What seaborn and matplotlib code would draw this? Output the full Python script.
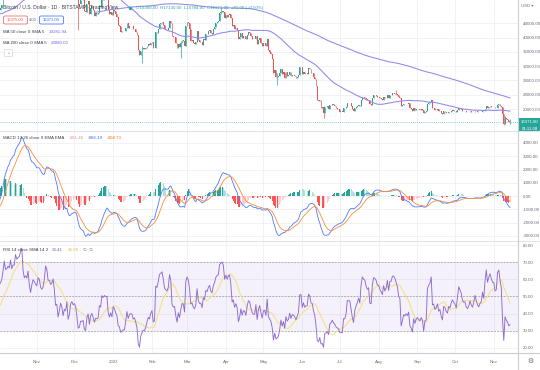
import numpy as np
import pandas as pd
import matplotlib
matplotlib.use("Agg")
import matplotlib.pyplot as plt
import matplotlib.dates as mdates
from matplotlib.patches import Rectangle, FancyBboxPatch
import seaborn as sns

# BTC/USD daily closes (Bitstamp). Jun-Sep 2021 only feed the MA / MACD / RSI warm-up.
close_2021_06 = [36690, 37570, 39190, 36880, 35530, 35800, 33540, 33410, 37390, 36690,
                 37310, 35550, 39010, 40530, 40140, 38350, 38060, 35820, 35480, 35600,
                 31680, 32510, 33680, 34660, 31590, 32280, 34700, 34490, 35910, 35040]
close_2021_07 = [33520, 33800, 34670, 35290, 33690, 34230, 33860, 32880, 33810, 33510,
                 34260, 33090, 32730, 32820, 31780, 31420, 31530, 31780, 30820, 29790,
                 32140, 32310, 33580, 34290, 35350, 37340, 39410, 39980, 40020, 42240, 41630]
close_2021_08 = [39970, 39200, 38150, 39750, 40870, 42820, 44610, 43830, 46290, 45600,
                 45590, 44430, 47830, 47110, 47010, 45900, 44700, 44800, 46720, 49340,
                 48870, 49290, 49500, 47710, 48990, 46880, 49070, 48900, 48810, 46990, 47170]
close_2021_09 = [48850, 49280, 50040, 49940, 51770, 52660, 46860, 46070, 46400, 44850,
                 45160, 46050, 44960, 47130, 48140, 47760, 47300, 48300, 47260, 42840,
                 40690, 43570, 44900, 42840, 42720, 43210, 42240, 41030, 41520, 43790]
close_2021_10 = [48140, 47710, 48200, 49110, 51510, 55360, 53810, 53970, 54960, 54660,
                 57470, 56010, 57370, 57350, 61670, 60880, 61530, 62010, 64280, 66000,
                 62210, 60690, 61290, 60860, 63080, 60330, 58460, 60620, 62270, 61890, 61320]
close_2021_11 = [61000, 63230, 62940, 61450, 61010, 61530, 63330, 67540, 66970, 64950,
                 64920, 64160, 64470, 65470, 63560, 60160, 60370, 56940, 58120, 59760,
                 58730, 56290, 57570, 57170, 58960, 53730, 54720, 57270, 57810, 56950]
close_2021_12 = [57220, 56510, 53600, 49200, 49400, 50580, 50470, 50640, 47540, 47140,
                 49390, 50100, 46710, 48380, 48860, 47630, 46130, 46830, 46680, 46880,
                 48940, 48630, 50820, 50430, 50810, 50640, 50640, 47590, 46470, 47120, 46200]
close_2022_01 = [47740, 47310, 46460, 45830, 43430, 43080, 41560, 41730, 41870, 41820,
                 42740, 43920, 42590, 43100, 43180, 43110, 42250, 42370, 41660, 40680,
                 36450, 35070, 36280, 36650, 36950, 36830, 37160, 37720, 38170, 37920, 38480]
close_2022_02 = [38740, 36950, 37080, 41570, 41380, 42410, 43840, 44040, 44340, 43560,
                 42400, 42210, 42060, 42540, 44580, 43940, 40540, 40030, 40120, 38430,
                 37030, 38250, 37260, 38330, 39220, 39110, 37700, 43190]
close_2022_03 = [44420, 43920, 42450, 39150, 39400, 38420, 38060, 38740, 41940, 39440,
                 38730, 38810, 37790, 39670, 39280, 41120, 40920, 41760, 42200, 41260,
                 41000, 42360, 42890, 43960, 44350, 44500, 46820, 47130, 47450, 47060, 45540]
close_2022_04 = [46280, 45810, 46400, 46580, 45500, 43170, 43440, 42280, 42760, 42160,
                 39530, 40070, 41140, 39940, 40550, 40380, 39680, 40800, 41500, 41370,
                 40480, 39710, 39470, 39450, 40430, 38120, 39240, 39740, 38600, 37650]
close_2022_05 = [38470, 38530, 37720, 39700, 36510, 36010, 35470, 34060, 30100, 31010,
                 28940, 29050, 29280, 30080, 31320, 29860, 30420, 28700, 30310, 29200,
                 29430, 30300, 29100, 29650, 29540, 29200, 28630, 29020, 29450, 31730, 31790]
close_2022_06 = [29800, 30450, 29700, 29860, 29910, 31370, 31130, 30200, 30110, 29080,
                 28420, 26570, 22490, 22140, 22580, 20380, 20450, 19010, 20550, 20570,
                 20720, 19970, 21090, 21230, 21500, 21030, 20730, 20280, 20100, 19930]
close_2022_07 = [19290, 19300, 19220, 20220, 20190, 20540, 21630, 21590, 21590, 20850,
                 19970, 19330, 20210, 20570, 20830, 21190, 20780, 22430, 23400, 23230,
                 23150, 22680, 22450, 22580, 21310, 21250, 22950, 23840, 23780, 23640, 23300]
close_2022_08 = [23270, 22990, 22820, 22620, 23310, 22960, 23180, 23810, 23160, 23950,
                 23950, 24400, 24440, 24310, 24100, 23860, 23340, 23190, 20830, 21140,
                 21520, 21400, 21530, 21370, 21560, 20260, 20040, 19560, 20280, 19800, 20050]
close_2022_09 = [20130, 19950, 19830, 19990, 19800, 18790, 19290, 19320, 21360, 21650,
                 21830, 22400, 20170, 20240, 19700, 19800, 20110, 19420, 19540, 18880,
                 18490, 19410, 19300, 18930, 18800, 19220, 19080, 19410, 19590, 19430]
close_2022_10 = [19310, 19060, 19630, 20340, 20160, 19960, 19530, 19420, 19450, 19140,
                 19050, 19160, 19380, 19180, 19070, 19270, 19550, 19330, 19130, 19040,
                 19170, 19210, 19570, 19340, 20090, 20770, 20290, 20600, 20820, 20630, 20490]
close_2022_11 = [20480, 20160, 20210, 21150, 21300, 20920, 20600, 18540, 15880, 17590,
                 17070, 16810, 16290, 16371]

month_starts = ["2021-06-01", "2021-07-01", "2021-08-01", "2021-09-01", "2021-10-01",
                "2021-11-01", "2021-12-01", "2022-01-01", "2022-02-01", "2022-03-01",
                "2022-04-01", "2022-05-01", "2022-06-01", "2022-07-01", "2022-08-01",
                "2022-09-01", "2022-10-01", "2022-11-01"]
month_closes = [close_2021_06, close_2021_07, close_2021_08, close_2021_09, close_2021_10,
                close_2021_11, close_2021_12, close_2022_01, close_2022_02, close_2022_03,
                close_2022_04, close_2022_05, close_2022_06, close_2022_07, close_2022_08,
                close_2022_09, close_2022_10, close_2022_11]

# the long wicks that stand out (date: low, high)
wicks = {
    "2021-11-10": (62800, 69000),
    "2021-12-04": (42000, 53900),
    "2022-01-24": (32950, 37500),
    "2022-02-24": (34320, 39000),
    "2022-03-28": (46600, 48190),
    "2022-05-12": (26700, 30000),
    "2022-06-18": (17600, 20750),
    "2022-08-15": (23800, 25200),
    "2022-11-09": (15600, 18500),
    "2022-11-10": (15800, 18150),
    "2022-11-14": (15784, 17130),
}

UP, DOWN = "#26a69a", "#ef5350"
MA_COL = "#8f88ec"
GRID = "#eef0f5"
TXT = "#6a6d78"

# ---- build table + indicators
frames = [pd.DataFrame({"date": pd.date_range(s, periods=len(v), freq="D"), "close": v})
          for s, v in zip(month_starts, month_closes)]
df = pd.concat(frames, ignore_index=True)
df["close"] = df["close"].astype(float)
df["open"] = df["close"].shift(1).fillna(df["close"])
df.loc[df["date"] == "2022-11-14", "open"] = 16300
df["high"] = df[["open", "close"]].max(axis=1)
df["low"] = df[["open", "close"]].min(axis=1)
for d, (lo, hi) in wicks.items():
    m = df["date"] == d
    df.loc[m, "low"] = lo
    df.loc[m, "high"] = hi

df["ma50"] = df["close"].rolling(50).mean()
df["ma200"] = df["close"].rolling(200).mean()
ema12 = df["close"].ewm(span=12, adjust=False).mean()
ema26 = df["close"].ewm(span=26, adjust=False).mean()
df["macd"] = ema12 - ema26
df["signal"] = df["macd"].ewm(span=9, adjust=False).mean()
df["hbar"] = df["macd"] - df["signal"]
delta = df["close"].diff()
gain = delta.clip(lower=0).ewm(alpha=1 / 14, adjust=False).mean()
loss = (-delta.clip(upper=0)).ewm(alpha=1 / 14, adjust=False).mean()
df["rsi"] = 100 - 100 / (1 + gain / loss)
df["rsi_ma"] = df["rsi"].rolling(14).mean()
df["x"] = mdates.date2num(df["date"])

prev = df["hbar"].shift(1)
df["hcol"] = np.where(df["hbar"] >= 0,
                      np.where(df["hbar"] >= prev, "#26a69a", "#b2dfdb"),
                      np.where(df["hbar"] < prev, "#ff5252", "#ffcdd2"))

vis = df[df["date"] >= "2021-10-01"].reset_index(drop=True)

# ---- figure
sns.set_theme(style="white")
plt.rcParams["font.family"] = ["Liberation Sans", "DejaVu Sans"]
W, H = 540, 370
fig = plt.figure(figsize=(5.4, 3.7), dpi=100)
fig.patch.set_facecolor("white")

def pane(top, bottom):
    return fig.add_axes([0, 1 - bottom / H, 518 / W, (bottom - top) / H])

ax_p = pane(0, 131)
ax_m = pane(131, 241)
ax_r = pane(241, 353)

x0 = mdates.date2num(pd.Timestamp("2021-10-01")) + 1.6
x1 = x0 + 518 / 1.252

for ax in (ax_p, ax_m, ax_r):
    ax.set_xlim(x0, x1)
    ax.set_facecolor("none")
    for s in ax.spines.values():
        s.set_visible(False)
    ax.xaxis.set_major_locator(mdates.MonthLocator())
    ax.grid(True, color=GRID, lw=0.6)
    ax.yaxis.tick_right()
    ax.tick_params(axis="y", length=0, pad=3.5, labelsize=3.2, labelcolor=TXT)
    ax.tick_params(axis="x", length=0)

# price pane
ax_p.set_ylim(13850, 50490)
ax_p.set_yticks(range(20000, 44001, 4000))
ax_p.yaxis.set_major_formatter(lambda v, p: f"{v:.2f}")
cc = np.where(vis["close"] >= vis["open"], UP, DOWN)
ax_p.vlines(vis["x"], vis["low"], vis["high"], colors=cc, lw=0.5, zorder=3)
body = np.maximum((vis["close"] - vis["open"]).abs(), 90)
ax_p.bar(vis["x"], body, bottom=vis[["open", "close"]].min(axis=1), width=0.72,
         color=cc, lw=0, zorder=4)
sns.lineplot(data=vis, x="x", y="ma50", ax=ax_p, color=MA_COL, lw=0.75, estimator=None, zorder=5)
sns.lineplot(data=vis, x="x", y="ma200", ax=ax_p, color=MA_COL, lw=0.75, estimator=None, zorder=5)
ax_p.axhline(16371, color=UP, lw=0.6, ls=(0, (1, 1.5)), alpha=0.7, zorder=2)
ax_p.set_xticklabels([])

# MACD pane
ax_m.set_ylim(-3380, 4900)
ax_m.set_yticks(range(-3000, 4001, 1000))
ax_m.yaxis.set_major_formatter(lambda v, p: f"{v:.2f}")
ax_m.bar(vis["x"], vis["hbar"], width=0.75, color=vis["hcol"], lw=0, zorder=3)
sns.lineplot(data=vis, x="x", y="macd", ax=ax_m, color="#4f7cf7", lw=0.6, estimator=None, zorder=4)
sns.lineplot(data=vis, x="x", y="signal", ax=ax_m, color="#fb8c3c", lw=0.6, estimator=None, zorder=4)
ax_m.set_xticklabels([])

# RSI pane
ax_r.set_ylim(17, 82.4)
ax_r.set_yticks(range(20, 81, 10))
ax_r.yaxis.set_major_formatter(lambda v, p: f"{v:.2f}")
ax_r.axhspan(30, 70, color="#7e57c2", alpha=0.08, lw=0, zorder=1)
for lv in (70, 50, 30):
    ax_r.axhline(lv, color="#9598a1", lw=0.5, ls=(0, (2.5, 2)), zorder=2)
sns.lineplot(data=vis, x="x", y="rsi_ma", ax=ax_r, color="#f4e08a", lw=0.8, estimator=None, zorder=3)
sns.lineplot(data=vis, x="x", y="rsi", ax=ax_r, color="#8c6bd0", lw=0.65, estimator=None, zorder=4)
ax_r.xaxis.set_major_formatter(
    lambda v, p: str(mdates.num2date(v).year) if mdates.num2date(v).month == 1
    else mdates.num2date(v).strftime("%b"))
ax_r.tick_params(axis="x", labelsize=3.2, labelcolor=TXT, pad=5)
for ax in (ax_p, ax_m, ax_r):
    ax.set_xlabel("")
    ax.set_ylabel("")

# ---- overlay in pixel coordinates for the TradingView chrome
ov = fig.add_axes([0, 0, 1, 1], zorder=10)
ov.set_xlim(0, W)
ov.set_ylim(H, 0)
ov.axis("off")
ov.patch.set_alpha(0)

sep = "#e0e3eb"
ov.plot([0, W], [131, 131], color=sep, lw=0.8)
ov.plot([0, W], [241, 241], color=sep, lw=0.8)
ov.plot([0, W], [353, 353], color="#c9ccd4", lw=0.8)
ov.plot([518, 518], [0, H], color="#c9ccd4", lw=0.8)

fs = 3.2


def legend_row(y, label, values, size=fs):
    """Gray study title followed by its coloured values, each placed after the previous one."""
    t = ov.text(3, y, label, fontsize=size, color="#3b3e48", va="center")
    for txt, col in values:
        t = ov.annotate(txt, xy=(1, 0.5), xycoords=t, xytext=(3, 0),
                        textcoords="offset points", fontsize=size, color=col,
                        va="center", ha="left")
    return t


legend_row(7.5, "Bitcoin / U.S. Dollar · 1D · BITSTAMP · TradingView", [], size=3.6)
ov.scatter([130], [7.5], s=6, color=UP, lw=0)
ov.text(136, 7.5, "O16300.00  H17130.00  L15784.00  C16371.00  +81.00 (+0.50%)",
        fontsize=fs, color=UP, va="center")

ov.add_patch(FancyBboxPatch((3.5, 16), 24, 8, boxstyle="round,pad=0,rounding_size=1.5",
                            fc="white", ec=DOWN, lw=0.5))
ov.text(15.5, 20, "16375.00", fontsize=3, color=DOWN, ha="center", va="center")
ov.text(33, 20, "4.00", fontsize=3, color=TXT, ha="center", va="center")
ov.add_patch(FancyBboxPatch((39.5, 16), 24, 8, boxstyle="round,pad=0,rounding_size=1.5",
                            fc="white", ec="#2962ff", lw=0.5))
ov.text(51.5, 20, "16371.00", fontsize=3, color="#2962ff", ha="center", va="center")

legend_row(32, "MA 50 close 0 SMA 5", [("19281.94", "#6f66e0")])
legend_row(43, "MA 200 close 0 SMA 5", [("23080.00", "#6f66e0")])
ov.add_patch(FancyBboxPatch((4.5, 49.5), 8, 7, boxstyle="round,pad=0,rounding_size=1",
                            fc="white", ec="#d1d4dc", lw=0.5))
ov.text(8.5, 53.5, "^", fontsize=3, color=TXT, ha="center", va="center")

legend_row(138, "MACD 12 26 close 9 EMA EMA",
           [("-461.46", "#f28b8b"), ("-866.19", "#2962ff"), ("-404.73", "#ff6d00")])
legend_row(250, "RSI 14 close SMA 14 2",
           [("33.41", "#7e57c2"), ("46.08", "#e0c341"), ("∅  ∅", TXT)])

ov.text(521, 6, "USD ▾", fontsize=3.1, color=TXT, va="center")
ov.add_patch(Rectangle((518.5, 118), 21.5, 14, fc=UP, ec="none"))
ov.text(529.5, 122, "16371.00", fontsize=3.1, color="white", ha="center", va="center")
ov.text(529.5, 128.5, "01:12:08", fontsize=3.1, color="white", ha="center", va="center")
ov.text(530, 361, "⚙", fontsize=5, color="#6a6d78", ha="center", va="center",
        family=["DejaVu Sans"])

fig.savefig("out.png", dpi=100, facecolor="white")
